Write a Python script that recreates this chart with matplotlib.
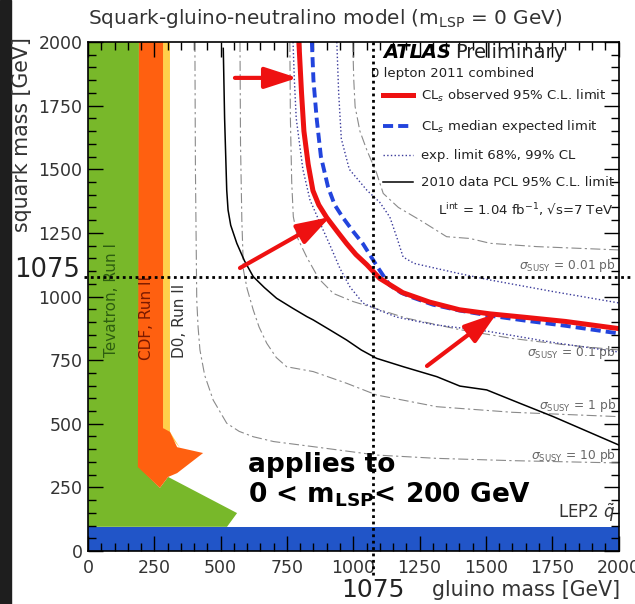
import matplotlib
matplotlib.use("Agg")
import matplotlib.pyplot as plt
from matplotlib.ticker import MultipleLocator

# CLs observed 95% limit (gluino, squark) in GeV
obs_x = [795, 800, 805, 814, 830, 848, 870, 900, 940, 975, 1010, 1051, 1100, 1187, 1288, 1400, 1514, 1650, 1800, 2000]
obs_y = [2000, 1900, 1800, 1650, 1520, 1416, 1360, 1310, 1255, 1208, 1165, 1125, 1071, 1015, 978, 948, 932, 918, 902, 874]

# CLs median expected
exp_x = [844, 850, 862, 878, 905, 930, 961, 1000, 1036, 1065, 1092, 1137, 1180, 1224, 1300, 1400, 1514, 1650, 1800, 2000]
exp_y = [2000, 1850, 1700, 1550, 1430, 1360, 1310, 1255, 1208, 1160, 1115, 1045, 1015, 996, 968, 945, 925, 905, 885, 855]

# expected band edges (68%)
band_lo_x = [773, 778, 785, 810, 837, 870, 912, 950, 988, 1037, 1100, 1164, 1300, 1515, 1750, 2000]
band_lo_y = [2000, 1850, 1700, 1500, 1379, 1300, 1202, 1110, 1037, 974, 945, 919, 890, 862, 820, 782]
band_hi_x = [938, 945, 955, 985, 1051, 1100, 1138, 1165, 1188, 1230, 1289, 1400, 1515, 1750, 2000]
band_hi_y = [2000, 1800, 1620, 1500, 1418, 1370, 1312, 1230, 1155, 1130, 1116, 1090, 1065, 1020, 975]

# 2010 data PCL limit
pcl_x = [510, 515, 523, 528, 538, 561, 590, 623, 665, 711, 770, 825, 849, 910, 975, 1030, 1088, 1189, 1315, 1402, 1503, 1629, 1754, 2000]
pcl_y = [1975, 1700, 1418, 1340, 1280, 1209, 1140, 1078, 1035, 993, 955, 921, 908, 870, 829, 790, 757, 724, 685, 648, 633, 580, 528, 417]

# sigma_SUSY iso-lines
s001_x = [998, 1002, 1007, 1025, 1051, 1088, 1113, 1170, 1252, 1352, 1440, 1516, 1692, 2000]
s001_y = [2000, 1850, 1746, 1650, 1576, 1485, 1405, 1350, 1300, 1235, 1228, 1209, 1196, 1183]
s01_x = [761, 763, 768, 774, 790, 824, 870, 925, 1000, 1063, 1200, 1400, 1600, 1800, 2000]
s01_y = [2000, 1700, 1450, 1314, 1230, 1156, 1070, 1012, 980, 960, 915, 870, 835, 810, 790]
s1_x = [573, 575, 580, 586, 600, 623, 645, 674, 710, 749, 849, 975, 1088, 1315, 1600, 2000]
s1_y = [2000, 1600, 1300, 1104, 1030, 947, 880, 816, 760, 724, 705, 659, 613, 567, 545, 528]
s10_x = [403, 405, 410, 415, 422, 440, 472, 523, 570, 623, 700, 849, 1088, 1315, 1600, 2000]
s10_y = [2000, 1500, 986, 880, 790, 690, 593, 502, 470, 449, 430, 410, 377, 364, 355, 346]

# Tevatron excluded regions
tev1_x = [0, 0, 192, 192, 271, 302, 562, 524]
tev1_y = [95, 2000, 2000, 330, 248, 291, 149, 95]
cdf_x = [192, 283, 283, 309, 336, 434, 336, 302, 271, 188]
cdf_y = [2000, 2000, 483, 468, 408, 385, 306, 291, 248, 330]
d0_x = [283, 309, 309, 347, 283]
d0_y = [2000, 2000, 468, 405, 483]
lep2_sq = 95

mark = 1075

# red arrows (tail, head)
arrows = [((554, 1859), (790, 1859)),
          ((573, 1112), (912, 1312)),
          ((1278, 727), (1542, 935))]

sigma_labels = ["0.01", "0.1", "1", "10"]
sigma_pos = [(1990, 1123), (1990, 780), (1990, 572), (1990, 376)]

fig = plt.figure(figsize=(6.35, 6.04), dpi=100)
fig.add_artist(plt.Rectangle((0, 0), 11 / 635, 1, transform=fig.transFigure,
                             color="#1e1e1e", zorder=-5))
ax = fig.add_axes([88 / 635, 1 - 551 / 604, 530.5 / 635, 509 / 604])
ax.set_xlim(0, 2000)
ax.set_ylim(0, 2000)

ax.fill(d0_x, d0_y, color="#ffd04a", lw=0, zorder=1)
ax.fill(tev1_x, tev1_y, color="#78b82a", lw=0, zorder=1)
ax.fill(cdf_x, cdf_y, color="#ff6010", lw=0, zorder=1)
ax.axhspan(0, lep2_sq, color="#2155c8", lw=0, zorder=1)

gray_ls = (0, (9, 3, 2, 3))
for sx, sy in [(s001_x, s001_y), (s01_x, s01_y), (s1_x, s1_y), (s10_x, s10_y)]:
    ax.plot(sx, sy, color="#8a8a8a", lw=0.8, ls=gray_ls, zorder=2)

band, = ax.plot(band_lo_x, band_lo_y, color="#3a3a9a", lw=1.0, ls=":", zorder=3)
ax.plot(band_hi_x, band_hi_y, color="#3a3a9a", lw=1.0, ls=":", zorder=3)
pcl, = ax.plot(pcl_x, pcl_y, color="black", lw=1.1, zorder=3)
exp_line, = ax.plot(exp_x, exp_y, color="#2244dd", lw=2.8, ls=(0, (2.6, 1.3)), zorder=4)
obs_line, = ax.plot(obs_x, obs_y, color="#ee1111", lw=3.6, zorder=5)

for (tx, ty), (hx, hy) in arrows:
    ax.annotate("", xy=(hx, hy), xytext=(tx, ty),
                arrowprops=dict(arrowstyle="-|>,head_length=0.8,head_width=0.26",
                                mutation_scale=25, lw=3, color="#ee1111",
                                shrinkA=0, shrinkB=0), zorder=6)

ax.axhline(mark, xmin=-0.008, xmax=1.022, color="black", lw=2,
           ls=(0, (1, 1.3)), clip_on=False, zorder=7)
ax.axvline(mark, ymin=-0.047, ymax=1, color="black", lw=2,
           ls=(0, (1, 1.3)), clip_on=False, zorder=7)
ax.text(-154, mark, str(mark), fontsize=18.5, ha="center", va="baseline", color="#222")
ax.text(mark, -153, str(mark), fontsize=18, ha="center", va="center", color="#222")

# ticks ROOT-like
ax.xaxis.set_major_locator(MultipleLocator(250))
ax.yaxis.set_major_locator(MultipleLocator(250))
ax.xaxis.set_minor_locator(MultipleLocator(50))
ax.yaxis.set_minor_locator(MultipleLocator(50))
ax.tick_params(which="both", direction="in", top=True, right=True, colors="black",
               labelcolor="#333", labelsize=12.5, zorder=8)
ax.tick_params(which="major", length=11, width=1)
ax.tick_params(which="minor", length=6, width=1)
ax.tick_params(axis="x", pad=6)
ax.tick_params(axis="y", pad=4)
for sp in ax.spines.values():
    sp.set_linewidth(1.2)
    sp.set_zorder(9)

fig.text(325 / 635, 1 - 18 / 604, r"Squark-gluino-neutralino model (m$_{\rm LSP}$ = 0 GeV)",
         fontsize=14.4, ha="center", va="center", color="#333")
fig.text(22 / 635, 1 - 135 / 604, "squark mass [GeV]", rotation=90, fontsize=14.8,
         ha="center", va="center", color="#333")
fig.text(620 / 635, 1 - 590 / 604, "gluino mass [GeV]", fontsize=14.8,
         ha="right", va="center", color="#333")

# header and legend
ax.text(0.556, 0.980, "ATLAS", transform=ax.transAxes, fontsize=14, fontweight="bold",
        fontstyle="italic", va="center", ha="left")
ax.text(0.692, 0.980, "Preliminary", transform=ax.transAxes, fontsize=14,
        va="center", ha="left", color="#222")
ax.text(0.534, 0.939, "0 lepton 2011 combined", transform=ax.transAxes,
        fontsize=9.5, va="center", ha="left", color="#222")
ax.legend([obs_line, exp_line, band, pcl],
          [r"CL$_{s}$ observed 95% C.L. limit", r"CL$_{s}$ median expected limit",
           "exp. limit 68%, 99% CL", "2010 data PCL 95% C.L. limit"],
          loc="upper left", bbox_to_anchor=(0.556, 0.9096), frameon=False,
          fontsize=9.5, handlelength=2.3, handletextpad=0.55, labelspacing=1.07,
          borderpad=0, borderaxespad=0, labelcolor="#222")
ax.text(0.99, 0.670, r"L$^{\rm int}$ = 1.04 fb$^{-1}$, √s=7 TeV", transform=ax.transAxes,
        fontsize=9.5, ha="right", va="center", color="#222")

for lab, (lx, ly) in zip(sigma_labels, sigma_pos):
    ax.text(lx, ly, r"$\sigma_{\rm SUSY}$ = " + lab + " pb", fontsize=8.8,
            ha="right", va="center", color="#666", zorder=6)
ax.text(1990, 148, r"LEP2 $\tilde{q}$", fontsize=12, ha="right", va="center", color="#333")

ax.text(90, 761, "Tevatron, Run I", rotation=90, fontsize=11, ha="center", va="bottom",
        color="#2e5e10")
ax.text(222, 749, "CDF, Run II", rotation=90, fontsize=11, ha="center", va="bottom",
        color="#7a1a00")
ax.text(346, 757, "D0, Run II", rotation=90, fontsize=11, ha="center", va="bottom",
        color="#333")

ax.text(603, 337, "applies to", fontsize=19, fontweight="bold", ha="left", va="center")
ax.text(603, 220, r"0 < m$_{\mathbf{LSP}}$< 200 GeV", fontsize=19, fontweight="bold",
        ha="left", va="center")

fig.savefig("out.png", dpi=100)
